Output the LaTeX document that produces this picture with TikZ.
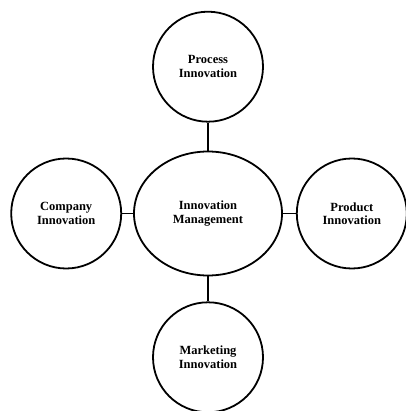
\documentclass[tikz,border=0pt]{standalone}
\usepackage{fontspec}
\setmainfont{Liberation Serif}
\usetikzlibrary{positioning,shapes.geometric}
\begin{document}
\begin{tikzpicture}[x=1pt, y=1pt, line width=1.8pt, auto]
      \tikzset{
	  core/.style={ellipse,draw=black, fill=white, inner sep=0pt, minimum width=148pt, minimum height=124pt, align=center, font=\bfseries\fontsize{12.5}{13.5}\selectfont},
	  branch/.style={circle,draw=black, fill=white, inner sep=0pt, minimum size=110pt, align=center, font=\bfseries\fontsize{12.5}{13.5}\selectfont},
	  link/.style={draw=black, line width=1.1pt}
      }

      \useasboundingbox (0,0) rectangle (405,-411);

      \node [core] (mgmt) at (208,-213.5) {Innovation\\Management};
      \node [branch, above=28pt of mgmt] (process) {Process\\Innovation};
      \node [branch, below=25pt of mgmt] (marketing) {Marketing\\Innovation};
      \node [branch, left=11pt of mgmt] (company) {Company\\Innovation};
      \node [branch, right=13pt of mgmt] (product) {Product\\Innovation};

      \draw [link] (mgmt) -- (process);
      \draw [link] (mgmt) -- (marketing);
      \draw [link] (mgmt) -- (company);
      \draw [link] (mgmt) -- (product);
    \end{tikzpicture}
\end{document}
